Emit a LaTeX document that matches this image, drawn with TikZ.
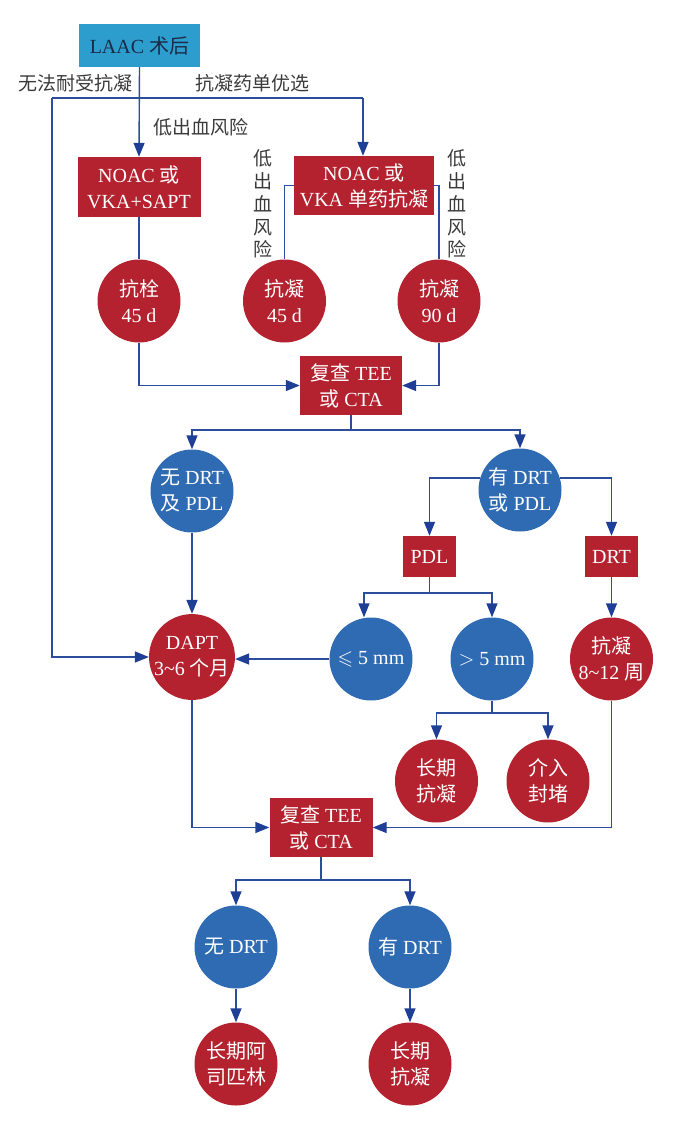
\documentclass[tikz,border=0pt]{standalone}
\usepackage{fontspec}
\usepackage{amssymb}
\setmainfont{Liberation Serif}
\newfontfamily\zh{Noto Sans CJK SC}
\usetikzlibrary{arrows.meta,calc}
\definecolor{boxred}{HTML}{B3222E}
\definecolor{cblue}{HTML}{2F6BB3}
\definecolor{lblue}{HTML}{2C4C9C}
\definecolor{ablue}{HTML}{1F3E96}
\definecolor{cyanbox}{HTML}{2C9DCC}
\definecolor{navytxt}{HTML}{1B2B47}
\definecolor{lbl}{HTML}{3A3A3A}
\begin{document}
\begin{tikzpicture}[x=1pt,y=-1pt,
  every node/.style={font=\fontsize{20}{26}\selectfont, align=center, inner sep=0pt},
  rbox/.style={rectangle, fill=boxred, text=white},
  rcirc/.style={circle, fill=boxred, text=white, minimum size=83pt},
  bcirc/.style={circle, fill=cblue, text=white, minimum size=83pt},
  conn/.style={draw=lblue, line width=1.4pt},
  arr/.style={conn, -{Triangle[length=14pt,width=11pt,color=ablue]}},
  lab/.style={text=lbl, font=\fontsize{19}{22.8}\selectfont\zh}
]
\useasboundingbox (0,0) rectangle (674,1124);

% nodes
\node[rectangle, fill=cyanbox, text=navytxt, minimum width=121pt, minimum height=43pt] (laac) at (139.5,45.5) {LAAC {\zh 术后}};
\node[rbox, minimum width=123pt, minimum height=60pt] (noac1) at (139,187) {NOAC {\zh 或}\\VKA+SAPT};
\node[rbox, minimum width=140pt, minimum height=59pt] (noac2) at (364,185.5) {NOAC {\zh 或}\\VKA {\zh 单药抗凝}};
\node[rcirc] (c1) at (139,301) {{\zh 抗栓}\\45 d};
\node[rcirc] (c2) at (284.5,301) {{\zh 抗凝}\\45 d};
\node[rcirc] (c3) at (439,301) {{\zh 抗凝}\\90 d};
\node[rbox, minimum width=102pt, minimum height=59pt] (rev1) at (351,385.5) {{\zh 复查} TEE\\{\zh 或} CTA};
\node[bcirc] (nodpl) at (192,491) {{\zh 无} DRT\\{\zh 及} PDL};
\node[bcirc] (hasdrt) at (520,490) {{\zh 有} DRT\\{\zh 或} PDL};
\node[rbox, minimum width=53pt, minimum height=41pt] (pdl) at (429.5,556.5) {PDL};
\node[rbox, minimum width=53pt, minimum height=41pt] (drt) at (611.5,556.5) {DRT};
\node[rcirc, minimum size=85pt] (dapt) at (192,657) {DAPT\\3\textasciitilde6 {\zh 个月}};
\node[bcirc] (le5) at (371,659) {$\leqslant$ 5 mm};
\node[bcirc] (gt5) at (492,659) {$>$ 5 mm};
\node[rcirc] (ac812) at (611.5,659) {{\zh 抗凝}\\8\textasciitilde12 {\zh 周}};
\node[rcirc] (lt1) at (436.5,781) {{\zh 长期}\\{\zh 抗凝}};
\node[rcirc] (intv) at (548,781) {{\zh 介入}\\{\zh 封堵}};
\node[rbox, minimum width=103pt, minimum height=59pt] (rev2) at (321,827.5) {{\zh 复查} TEE\\{\zh 或} CTA};
\node[bcirc] (nodrt) at (236,947) {{\zh 无} DRT};
\node[bcirc] (hasdrt2) at (410,947) {{\zh 有} DRT};
\node[rcirc] (asp) at (236,1064) {{\zh 长期阿}\\{\zh 司匹林}};
\node[rcirc] (lt2) at (410,1064) {{\zh 长期}\\{\zh 抗凝}};

% labels
\node[lab] (l1) at (75.5,83) {无法耐受抗凝};
\node[lab] (l2) at (252,83) {抗凝药单优选};
\node[lab] (l3) at (201,127) {低出血风险};
\node[lab] (l4) at (262.5,204) {低\\出\\血\\风\\险};
\node[lab] (l5) at (457,204) {低\\出\\血\\风\\险};

% connectors
\coordinate (jl) at (52,98);
\coordinate (jr) at (363,98);
\draw[arr] (laac.south) -- (noac1.north);
\draw[conn] (jl) -- (jr);
\draw[arr] (jr) -- (jr |- noac2.north);
\draw[arr] (jl) |- (dapt.west);
\draw[conn] (noac1.south) -- (c1.north);
\draw[conn] (noac2.west) -| (c2.north);
\draw[conn] (noac2.east) -| (c3.north);
\draw[arr] (c1.south) |- (rev1.west);
\draw[arr] (c3.south) |- (rev1.east);
\coordinate (s1) at (351,430);
\draw[conn] (rev1.south) -- (s1);
\draw[arr] (s1) -| (nodpl.north);
\draw[arr] (s1) -| (hasdrt.north);
\draw[arr] (hasdrt.163) -| (pdl.north);
\draw[arr] (hasdrt.17) -| (drt.north);
\draw[arr] (nodpl.south) -- (dapt.north);
\coordinate (s2) at (429.5,593);
\coordinate (le5in) at ($(le5.north)+(-7,0)$);
\draw[conn] (pdl.south) -- (s2);
\draw[arr] (s2) -| (le5in);
\draw[arr] (s2) -| (gt5.north);
\draw[arr] (drt.south) -- (ac812.north);
\draw[arr] (le5.west) -- (dapt.east |- le5.west);
\coordinate (s3) at (492,713);
\draw[conn] (gt5.south) -- (s3);
\draw[arr] (s3) -| (lt1.north);
\draw[arr] (s3) -| (intv.north);
\draw[arr] (dapt.south) |- (rev2.west);
\draw[arr] (ac812.south) |- (rev2.east);
\coordinate (s4) at (321,880);
\draw[conn] (rev2.south) -- (s4);
\draw[arr] (s4) -| (nodrt.north);
\draw[arr] (s4) -| (hasdrt2.north);
\draw[arr] (nodrt.south) -- (asp.north);
\draw[arr] (hasdrt2.south) -- (lt2.north);
\end{tikzpicture}
\end{document}
